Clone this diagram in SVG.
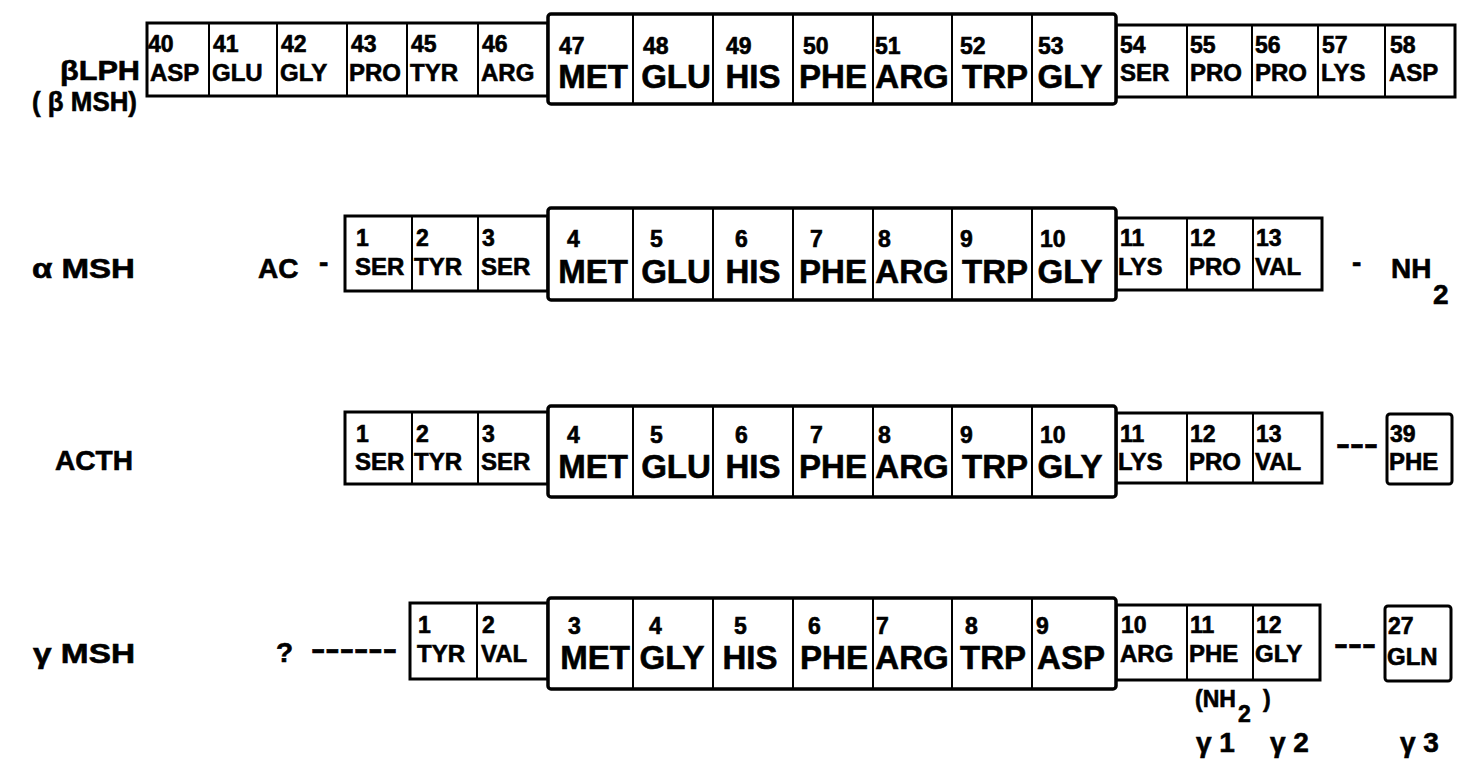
<svg xmlns="http://www.w3.org/2000/svg" width="1484" height="780" viewBox="0 0 1484 780">
<style>
text{font-family:"Liberation Sans",Arial,sans-serif;font-weight:bold;fill:#000;stroke:#000;stroke-width:0.6}
.lbl{font-size:28px}
.dash{font-size:32px}
.num{font-size:23px}
.sn{font-size:24px}
.bn{font-size:33px;text-anchor:middle}
.box{fill:#fff;stroke:#000;stroke-width:3}
.big{fill:#fff;stroke:#000;stroke-width:3.5}
.div{stroke:#000;stroke-width:2}
</style>
<rect width="1484" height="780" fill="#fff"/>
<g id="labels">
<text class="lbl" x="60" y="80" textLength="80" lengthAdjust="spacingAndGlyphs">βLPH</text>
<text class="lbl" x="32" y="111" textLength="105" lengthAdjust="spacingAndGlyphs">( β MSH)</text>
<text class="lbl" x="32" y="278" textLength="103" lengthAdjust="spacingAndGlyphs">α MSH</text>
<text class="lbl" x="55" y="470" textLength="78" lengthAdjust="spacingAndGlyphs">ACTH</text>
<text class="lbl" x="33" y="663" textLength="102" lengthAdjust="spacingAndGlyphs">γ MSH</text>
</g>
<g id="row-blph">
<rect class="box" x="147" y="23" width="401" height="73"/>
<rect class="box" x="1116" y="25" width="339" height="72"/>
<rect class="big" x="548" y="14" width="568" height="90" rx="3"/>
<g class="div">
<line x1="209" y1="23" x2="209" y2="96"/><line x1="277" y1="23" x2="277" y2="96"/><line x1="347" y1="23" x2="347" y2="96"/><line x1="407" y1="23" x2="407" y2="96"/><line x1="478" y1="23" x2="478" y2="96"/>
<line x1="633" y1="14" x2="633" y2="104"/><line x1="713" y1="14" x2="713" y2="104"/><line x1="793" y1="14" x2="793" y2="104"/><line x1="873" y1="14" x2="873" y2="104"/><line x1="952" y1="14" x2="952" y2="104"/><line x1="1032" y1="14" x2="1032" y2="104"/>
<line x1="1187" y1="25" x2="1187" y2="97"/><line x1="1252" y1="25" x2="1252" y2="97"/><line x1="1318" y1="25" x2="1318" y2="97"/><line x1="1385" y1="25" x2="1385" y2="97"/>
</g>
<text class="num" x="148" y="52">40</text><text class="sn" x="150" y="81">ASP</text>
<text class="num" x="213" y="52">41</text><text class="sn" x="212" y="81">GLU</text>
<text class="num" x="281" y="52">42</text><text class="sn" x="280" y="81">GLY</text>
<text class="num" x="351" y="52">43</text><text class="sn" x="349" y="81">PRO</text>
<text class="num" x="411" y="52">45</text><text class="sn" x="410" y="81">TYR</text>
<text class="num" x="482" y="52">46</text><text class="sn" x="481" y="81">ARG</text>
<text class="num" x="559" y="54">47</text><text class="bn" x="593" y="88">MET</text>
<text class="num" x="643" y="54">48</text><text class="bn" x="676" y="88">GLU</text>
<text class="num" x="726" y="54">49</text><text class="bn" x="753" y="88">HIS</text>
<text class="num" x="803" y="54">50</text><text class="bn" x="833" y="88">PHE</text>
<text class="num" x="875" y="54">51</text><text class="bn" x="912" y="88">ARG</text>
<text class="num" x="960" y="54">52</text><text class="bn" x="995" y="88">TRP</text>
<text class="num" x="1038" y="54">53</text><text class="bn" x="1070" y="88">GLY</text>
<text class="num" x="1120" y="53">54</text><text class="sn" x="1120" y="81">SER</text>
<text class="num" x="1190" y="53">55</text><text class="sn" x="1190" y="81">PRO</text>
<text class="num" x="1255" y="53">56</text><text class="sn" x="1255" y="81">PRO</text>
<text class="num" x="1322" y="53">57</text><text class="sn" x="1321" y="81">LYS</text>
<text class="num" x="1390" y="53">58</text><text class="sn" x="1389" y="81">ASP</text>
</g>
<g id="row-amsh">
<text class="lbl" x="258" y="278">AC</text>
<text class="lbl" x="319" y="272">-</text>
<rect class="box" x="345" y="216" width="203" height="75"/>
<rect class="box" x="1116" y="218" width="206" height="72"/>
<rect class="big" x="548" y="208" width="568" height="92" rx="3"/>
<g class="div">
<line x1="412" y1="216" x2="412" y2="291"/><line x1="478" y1="216" x2="478" y2="291"/>
<line x1="633" y1="208" x2="633" y2="300"/><line x1="713" y1="208" x2="713" y2="300"/><line x1="793" y1="208" x2="793" y2="300"/><line x1="873" y1="208" x2="873" y2="300"/><line x1="952" y1="208" x2="952" y2="300"/><line x1="1032" y1="208" x2="1032" y2="300"/>
<line x1="1187" y1="218" x2="1187" y2="290"/><line x1="1253" y1="218" x2="1253" y2="290"/>
</g>
<text class="num" x="356" y="246">1</text><text class="sn" x="355" y="275">SER</text>
<text class="num" x="416" y="246">2</text><text class="sn" x="414" y="275">TYR</text>
<text class="num" x="482" y="246">3</text><text class="sn" x="481" y="275">SER</text>
<text class="num" x="567" y="247">4</text><text class="bn" x="593" y="283">MET</text>
<text class="num" x="650" y="247">5</text><text class="bn" x="676" y="283">GLU</text>
<text class="num" x="735" y="247">6</text><text class="bn" x="753" y="283">HIS</text>
<text class="num" x="810" y="247">7</text><text class="bn" x="833" y="283">PHE</text>
<text class="num" x="878" y="247">8</text><text class="bn" x="912" y="283">ARG</text>
<text class="num" x="960" y="247">9</text><text class="bn" x="995" y="283">TRP</text>
<text class="num" x="1040" y="247">10</text><text class="bn" x="1070" y="283">GLY</text>
<text class="num" x="1120" y="246">11</text><text class="sn" x="1118" y="275">LYS</text>
<text class="num" x="1190" y="246">12</text><text class="sn" x="1189" y="275">PRO</text>
<text class="num" x="1256" y="246">13</text><text class="sn" x="1255" y="275">VAL</text>
<text class="lbl" x="1352" y="272">-</text>
<text class="lbl" x="1391" y="278">NH</text>
<text class="lbl" x="1433" y="304">2</text>
</g>
<g id="row-acth">
<rect class="box" x="345" y="412" width="203" height="72"/>
<rect class="box" x="1116" y="413" width="206" height="70"/>
<rect class="big" x="548" y="406" width="568" height="91" rx="3"/>
<g class="div">
<line x1="412" y1="412" x2="412" y2="484"/><line x1="478" y1="412" x2="478" y2="484"/>
<line x1="633" y1="406" x2="633" y2="497"/><line x1="713" y1="406" x2="713" y2="497"/><line x1="793" y1="406" x2="793" y2="497"/><line x1="873" y1="406" x2="873" y2="497"/><line x1="952" y1="406" x2="952" y2="497"/><line x1="1032" y1="406" x2="1032" y2="497"/>
<line x1="1187" y1="413" x2="1187" y2="483"/><line x1="1253" y1="413" x2="1253" y2="483"/>
</g>
<text class="num" x="356" y="442">1</text><text class="sn" x="355" y="470">SER</text>
<text class="num" x="416" y="442">2</text><text class="sn" x="414" y="470">TYR</text>
<text class="num" x="482" y="442">3</text><text class="sn" x="481" y="470">SER</text>
<text class="num" x="567" y="443">4</text><text class="bn" x="593" y="478">MET</text>
<text class="num" x="650" y="443">5</text><text class="bn" x="676" y="478">GLU</text>
<text class="num" x="735" y="443">6</text><text class="bn" x="753" y="478">HIS</text>
<text class="num" x="810" y="443">7</text><text class="bn" x="833" y="478">PHE</text>
<text class="num" x="878" y="443">8</text><text class="bn" x="912" y="478">ARG</text>
<text class="num" x="960" y="443">9</text><text class="bn" x="995" y="478">TRP</text>
<text class="num" x="1040" y="443">10</text><text class="bn" x="1070" y="478">GLY</text>
<text class="num" x="1120" y="442">11</text><text class="sn" x="1118" y="470">LYS</text>
<text class="num" x="1190" y="442">12</text><text class="sn" x="1189" y="470">PRO</text>
<text class="num" x="1256" y="442">13</text><text class="sn" x="1255" y="470">VAL</text>
<text class="dash" x="1336" y="454" textLength="42" lengthAdjust="spacingAndGlyphs">---</text>
<rect class="box" x="1387" y="414" width="65" height="70" rx="3"/>
<text class="num" x="1390" y="442">39</text><text class="sn" x="1389" y="470">PHE</text>
</g>
<g id="row-gmsh">
<text class="lbl" x="276" y="662">?</text>
<text class="dash" x="311" y="659" textLength="86" lengthAdjust="spacingAndGlyphs">------</text>
<rect class="box" x="410" y="603" width="138" height="76"/>
<rect class="box" x="1116" y="605" width="204" height="75"/>
<rect class="big" x="548" y="598" width="568" height="91" rx="3"/>
<g class="div">
<line x1="477" y1="603" x2="477" y2="679"/>
<line x1="633" y1="598" x2="633" y2="689"/><line x1="713" y1="598" x2="713" y2="689"/><line x1="793" y1="598" x2="793" y2="689"/><line x1="873" y1="598" x2="873" y2="689"/><line x1="952" y1="598" x2="952" y2="689"/><line x1="1032" y1="598" x2="1032" y2="689"/>
<line x1="1187" y1="605" x2="1187" y2="680"/><line x1="1253" y1="605" x2="1253" y2="680"/>
</g>
<text class="num" x="418" y="633">1</text><text class="sn" x="417" y="662">TYR</text>
<text class="num" x="482" y="633">2</text><text class="sn" x="481" y="662">VAL</text>
<text class="num" x="568" y="634">3</text><text class="bn" x="595" y="669">MET</text>
<text class="num" x="649" y="634">4</text><text class="bn" x="672" y="669">GLY</text>
<text class="num" x="734" y="634">5</text><text class="bn" x="750" y="669">HIS</text>
<text class="num" x="808" y="634">6</text><text class="bn" x="834" y="669">PHE</text>
<text class="num" x="876" y="634">7</text><text class="bn" x="912" y="669">ARG</text>
<text class="num" x="965" y="634">8</text><text class="bn" x="993" y="669">TRP</text>
<text class="num" x="1036" y="634">9</text><text class="bn" x="1071" y="669">ASP</text>
<text class="num" x="1121" y="633">10</text><text class="sn" x="1120" y="662">ARG</text>
<text class="num" x="1190" y="633">11</text><text class="sn" x="1189" y="662">PHE</text>
<text class="num" x="1256" y="633">12</text><text class="sn" x="1255" y="662">GLY</text>
<text class="dash" x="1334" y="654" textLength="42" lengthAdjust="spacingAndGlyphs">---</text>
<rect class="box" x="1385" y="606" width="66" height="75" rx="3"/>
<text class="num" x="1388" y="634">27</text><text class="sn" x="1387" y="665">GLN</text>
<text class="num" x="1195" y="707">(NH</text>
<text class="num" x="1238" y="722">2</text>
<text class="num" x="1263" y="707">)</text>
<text class="lbl" x="1196" y="752">γ 1</text>
<text class="lbl" x="1270" y="752">γ 2</text>
<text class="lbl" x="1400" y="752">γ 3</text>
</g>
<g id="connectors"></g>
</svg>
